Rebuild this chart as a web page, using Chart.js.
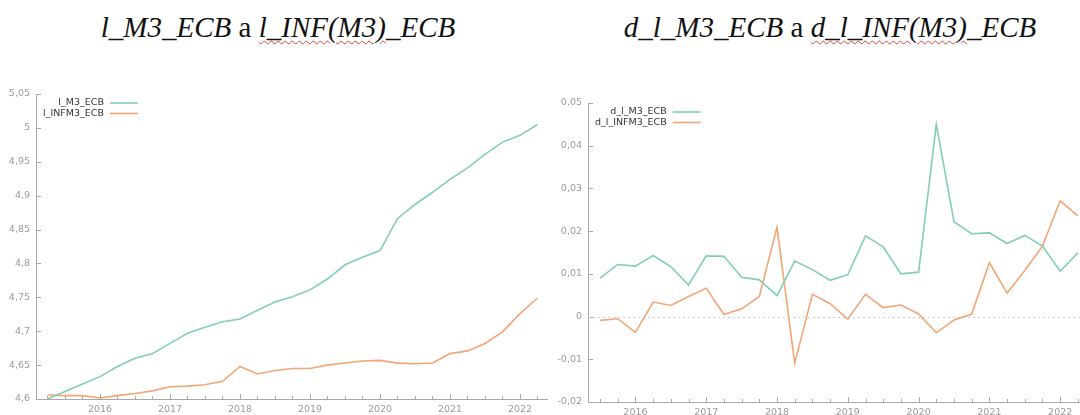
<!DOCTYPE html>
<html>
<head>
<meta charset="utf-8">
<script src="https://cdn.jsdelivr.net/npm/chart.js@4"></script>
<style>
  html, body { margin: 0; padding: 0; background: #fff; }
  body { width: 1080px; height: 415px; position: relative; overflow: hidden; }
  .title {
    position: absolute; top: 12px; text-align: center;
    font-family: "Liberation Serif", serif; font-size: 29px; line-height: 30px; color: #111;
    white-space: nowrap;
  }
  .title i { font-style: italic; }
  .squig { text-decoration: underline wavy #e04040; text-decoration-thickness: 1px; text-underline-offset: 3px; }
  canvas { position: absolute; }
</style>
</head>
<body>
<div class="title" style="left:0;width:556px"><i>l_M3_ECB</i> a <i><span class="squig">l_INF(M3)</span>_ECB</i></div>
<div class="title" style="left:560px;width:540px"><i>d_l_M3_ECB</i> a <i><span class="squig">d_l_INF(M3)</span>_ECB</i></div>
<canvas id="levels" width="550" height="335" style="left:0;top:80px"></canvas>
<canvas id="diffs" width="540" height="335" style="left:540px;top:80px"></canvas>
<script>
(() => {
  // quarterly data
  const quarters = ["2015Q2","2015Q3","2015Q4",
    "2016Q1","2016Q2","2016Q3","2016Q4","2017Q1","2017Q2","2017Q3","2017Q4",
    "2018Q1","2018Q2","2018Q3","2018Q4","2019Q1","2019Q2","2019Q3","2019Q4",
    "2020Q1","2020Q2","2020Q3","2020Q4","2021Q1","2021Q2","2021Q3","2021Q4",
    "2022Q1","2022Q2"];
  const l_M3 = [4.600, 4.611, 4.622, 4.633, 4.648, 4.660, 4.667, 4.682, 4.697, 4.706,
    4.714, 4.718, 4.731, 4.743, 4.751, 4.761, 4.777, 4.798, 4.809, 4.819, 4.866, 4.887,
    4.905, 4.924, 4.941, 4.961, 4.979, 4.989, 5.005];
  const l_INFM3 = [4.606, 4.605, 4.605, 4.6015, 4.605, 4.608, 4.612, 4.618, 4.619, 4.621,
    4.626, 4.648, 4.637, 4.642, 4.645, 4.645, 4.650, 4.653, 4.656, 4.657, 4.653, 4.652,
    4.653, 4.667, 4.671, 4.682, 4.699, 4.726, 4.749];

  const dQuarters = quarters.slice(1); // differences start one quarter later
  const d_l_M3 = [0.0090, 0.0122, 0.0118, 0.0143, 0.0117, 0.0074, 0.0142, 0.0141, 0.0092,
    0.0086, 0.0049, 0.0130, 0.0110, 0.0085, 0.0098, 0.0189, 0.0163, 0.0100, 0.0104, 0.0450,
    0.0222, 0.0194, 0.0196, 0.0171, 0.0190, 0.0165, 0.0106, 0.0149];
  const d_l_INFM3 = [-0.0009, -0.0005, -0.0037, 0.0034, 0.0026, 0.0047, 0.0066, 0.0005,
    0.0018, 0.0047, 0.0209, -0.0109, 0.0052, 0.0030, -0.0006, 0.0052, 0.0021, 0.0027,
    0.0006, -0.0038, -0.0008, 0.0006, 0.0126, 0.0055, 0.0108, 0.0165, 0.0271, 0.0236];

  const yearTicks = [2016, 2017, 2018, 2019, 2020, 2021, 2022];
  const levelTicks = [4.6, 4.65, 4.7, 4.75, 4.8, 4.85, 4.9, 4.95, 5, 5.05];
  const diffTicks = [-0.02, -0.01, 0, 0.01, 0.02, 0.03, 0.04, 0.05];

  const GREEN = "#82cfb1";
  const ORANGE = "#f2a676";
  const AXIS = "#a8a8a8";
  const TICKTXT = "#9a9a9a";

  const qx = (q) => +q.slice(0, 4) + (+q.slice(5) - 1) / 4;
  const pts = (qs, vals) => qs.map((q, i) => ({ x: qx(q), y: vals[i] }));
  const fmt = (v) => String(+v.toFixed(3)).replace(".", ",");

  // gnuplot look: border left+bottom, ticks pointing inward, quarterly minor ticks
  const gnuAxes = {
    id: "gnuAxes",
    beforeDatasetsDraw(chart) {
      const { ctx, chartArea: a, scales: { x, y } } = chart;
      ctx.save();
      ctx.strokeStyle = AXIS;
      ctx.lineWidth = 1;
      ctx.beginPath();
      ctx.moveTo(a.left + 0.5, a.top);
      ctx.lineTo(a.left + 0.5, a.bottom + 0.5);
      ctx.lineTo(a.right, a.bottom + 0.5);
      ctx.stroke();
      ctx.beginPath();
      y.ticks.forEach(t => {
        const py = Math.round(y.getPixelForValue(t.value)) + 0.5;
        ctx.moveTo(a.left, py);
        ctx.lineTo(a.left + 5, py);
      });
      for (let v = Math.ceil(x.min * 4) / 4; v <= x.max; v += 0.25) {
        const px = Math.round(x.getPixelForValue(v)) + 0.5;
        const len = Math.abs(v - Math.round(v)) < 1e-6 ? 5 : 3;
        ctx.moveTo(px, a.bottom);
        ctx.lineTo(px, a.bottom - len);
      }
      ctx.stroke();
      if (y.min < 0 && y.max > 0) {
        const pz = Math.round(y.getPixelForValue(0)) + 0.5;
        ctx.strokeStyle = "#cfcfcf";
        ctx.setLineDash([2, 3]);
        ctx.beginPath();
        ctx.moveTo(a.left, pz);
        ctx.lineTo(a.right, pz);
        ctx.stroke();
      }
      ctx.restore();
    },
    // key in the top-left corner: right-aligned names followed by a line sample
    afterDraw(chart) {
      const { ctx, chartArea: a } = chart;
      const sets = chart.data.datasets;
      ctx.save();
      ctx.font = "9.5px 'DejaVu Sans'";
      ctx.textBaseline = "middle";
      ctx.textAlign = "right";
      const w = Math.max(...sets.map(d => ctx.measureText(d.label).width));
      const tx = a.left + 7 + w;
      sets.forEach((d, i) => {
        const ky = a.top + 9 + i * 10.5;
        ctx.fillStyle = "#333";
        ctx.fillText(d.label, tx, ky);
        ctx.strokeStyle = d.borderColor;
        ctx.lineWidth = 1.6;
        ctx.beginPath();
        ctx.moveTo(tx + 6, ky);
        ctx.lineTo(tx + 34, ky);
        ctx.stroke();
      });
      ctx.restore();
    }
  };

  function makeChart(id, sets, xr, yr, yTicks, yWidth, xHeight, pad) {
    return new Chart(document.getElementById(id), {
      type: "line",
      data: {
        datasets: sets.map(s => ({
          label: s.label, data: s.data, borderColor: s.color,
          borderWidth: 1.6, pointRadius: 0, tension: 0, fill: false
        }))
      },
      options: {
        responsive: false,
        animation: false,
        devicePixelRatio: 1,
        layout: { padding: pad },
        plugins: { legend: { display: false }, tooltip: { enabled: false }, title: { display: false } },
        scales: {
          x: {
            type: "linear", min: xr[0], max: xr[1],
            afterBuildTicks: s => { s.ticks = yearTicks.map(v => ({ value: v })); },
            afterFit: s => { s.height = xHeight; },
            grid: { display: false, drawTicks: false }, border: { display: false },
            ticks: { autoSkip: false, maxRotation: 0, padding: 5, color: TICKTXT,
              font: { size: 9.5, family: "DejaVu Sans" }, callback: v => String(v) }
          },
          y: {
            min: yr[0], max: yr[1],
            afterBuildTicks: s => { s.ticks = yTicks.map(v => ({ value: v })); },
            afterFit: s => { s.width = yWidth; },
            grid: { display: false, drawTicks: false }, border: { display: false },
            ticks: { autoSkip: false, padding: 6, color: TICKTXT,
              font: { size: 9.5, family: "DejaVu Sans" }, callback: v => fmt(v) }
          }
        }
      },
      plugins: [gnuAxes]
    });
  }

  makeChart("levels", [
    { label: "l_M3_ECB", data: pts(quarters, l_M3), color: GREEN },
    { label: "l_INFM3_ECB", data: pts(quarters, l_INFM3), color: ORANGE }
  ], [2015.086, 2022.4], [4.6, 5.05], levelTicks, 36, 16, { top: 14, right: 2, left: 0, bottom: 0 });

  makeChart("diffs", [
    { label: "d_l_M3_ECB", data: pts(dQuarters, d_l_M3), color: GREEN },
    { label: "d_l_INFM3_ECB", data: pts(dQuarters, d_l_INFM3), color: ORANGE }
  ], [2015.33, 2022.28], [-0.02, 0.05], diffTicks, 48, 13, { top: 23, right: 0, left: 0, bottom: 0 });
})();
</script>
</body>
</html>
